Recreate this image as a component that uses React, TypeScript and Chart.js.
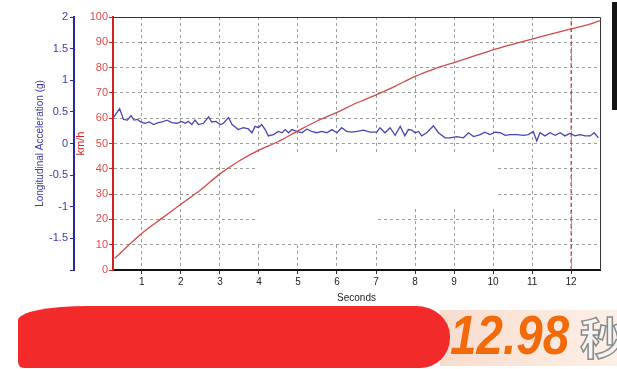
import React, { useEffect, useRef } from "react";
import { Chart, registerables } from "chart.js";

Chart.register(...registerables);

// ---- data ----
const X_MIN = 0.26;
const X_MAX = 12.74;
const X_TICKS = [1, 2, 3, 4, 5, 6, 7, 8, 9, 10, 11, 12];
const SPEED_TICKS = [0, 10, 20, 30, 40, 50, 60, 70, 80, 90, 100];
const ACCEL_TICKS = [-2, -1.5, -1, -0.5, 0, 0.5, 1, 1.5, 2];

const SPEED_T = [0.3, 1, 1.5, 2, 2.5, 3, 3.5, 4, 4.5, 5, 5.5, 6, 6.5, 7, 7.5, 8, 8.5, 9, 9.5, 10, 10.5, 11, 11.5, 12, 12.5, 12.74];
const SPEED_KMH = [4.6, 14.5, 20.3, 26, 31.6, 38, 43.2, 47.4, 50.8, 55, 59, 62.3, 66, 69.2, 72.7, 76.5, 79.5, 82, 84.5, 87, 89.2, 91.3, 93.3, 95.3, 97.3, 98.6];

const ACCEL_T = [0.27, 0.43, 0.53, 0.63, 0.72, 0.8, 0.89, 0.97, 1.08, 1.19, 1.3, 1.42, 1.52, 1.64, 1.77, 1.9, 2.02, 2.11, 2.19, 2.28, 2.36, 2.45, 2.58, 2.71, 2.79, 2.9, 3.01, 3.09, 3.22, 3.31, 3.39, 3.47, 3.6, 3.73, 3.82, 3.9, 3.99, 4.07, 4.16, 4.24, 4.37, 4.5, 4.59, 4.67, 4.76, 4.84, 4.97, 5.1, 5.23, 5.35, 5.48, 5.61, 5.74, 5.87, 6.0, 6.12, 6.25, 6.38, 6.51, 6.68, 6.85, 7.02, 7.1, 7.23, 7.36, 7.49, 7.62, 7.74, 7.83, 7.92, 8.0, 8.09, 8.17, 8.3, 8.47, 8.6, 8.77, 8.9, 9.07, 9.24, 9.37, 9.5, 9.67, 9.79, 9.92, 10.05, 10.18, 10.31, 10.44, 10.61, 10.78, 10.9, 11.03, 11.12, 11.2, 11.33, 11.46, 11.59, 11.72, 11.84, 11.97, 12.1, 12.23, 12.36, 12.49, 12.59, 12.7];
const ACCEL_G = [0.41, 0.55, 0.38, 0.37, 0.44, 0.37, 0.38, 0.34, 0.32, 0.34, 0.3, 0.33, 0.34, 0.37, 0.33, 0.32, 0.35, 0.32, 0.35, 0.3, 0.37, 0.3, 0.32, 0.42, 0.34, 0.35, 0.3, 0.32, 0.41, 0.3, 0.26, 0.22, 0.25, 0.23, 0.17, 0.27, 0.25, 0.3, 0.22, 0.12, 0.14, 0.19, 0.17, 0.22, 0.17, 0.22, 0.19, 0.17, 0.23, 0.19, 0.17, 0.19, 0.17, 0.22, 0.17, 0.25, 0.19, 0.18, 0.19, 0.21, 0.18, 0.18, 0.25, 0.17, 0.25, 0.13, 0.27, 0.12, 0.22, 0.21, 0.17, 0.19, 0.12, 0.17, 0.28, 0.17, 0.09, 0.09, 0.11, 0.09, 0.17, 0.11, 0.14, 0.18, 0.14, 0.18, 0.17, 0.13, 0.14, 0.14, 0.13, 0.14, 0.19, 0.04, 0.17, 0.12, 0.17, 0.13, 0.17, 0.12, 0.16, 0.12, 0.14, 0.12, 0.12, 0.17, 0.09];

const MARKER_T = [12, 12];
const MARKER_KMH = [0, 100];

const RESULT_TIME = "12.98";
const RESULT_UNIT = "秒";

const FONT = "'Liberation Sans', Arial, sans-serif";

const framePlugin = {
  id: "frame",
  afterDatasetsDraw(chart: any) {
    const { ctx, chartArea } = chart;
    const { left, top, right, bottom } = chartArea;
    ctx.save();
    ctx.strokeStyle = "#333";
    ctx.lineWidth = 1;
    ctx.beginPath();
    ctx.moveTo(left, Math.round(top) + 0.5);
    ctx.lineTo(Math.round(right) + 0.5, Math.round(top) + 0.5);
    ctx.lineTo(Math.round(right) + 0.5, bottom);
    ctx.stroke();
    ctx.restore();
  },
};

const zip = (xs: number[], ys: number[]) => xs.map((x, i) => ({ x, y: ys[i] })).filter((p) => p.y !== undefined);

export default function App() {
  const ref = useRef<HTMLCanvasElement | null>(null);

  useEffect(() => {
    if (!ref.current) return;
    const chart = new Chart(ref.current, {
      type: "line",
      data: {
        datasets: [
          {
            label: "Speed",
            data: zip(SPEED_T, SPEED_KMH),
            xAxisID: "x",
            yAxisID: "ySpeed",
            borderColor: "#d24a4a",
            borderWidth: 1.3,
            pointRadius: 0,
            tension: 0.3,
          },
          {
            label: "Acceleration",
            data: zip(ACCEL_T, ACCEL_G),
            xAxisID: "x",
            yAxisID: "yAcc",
            borderColor: "#4646b4",
            borderWidth: 1.3,
            pointRadius: 0,
            tension: 0,
          },
          {
            label: "Marker",
            data: zip(MARKER_T, MARKER_KMH),
            xAxisID: "x",
            yAxisID: "ySpeed",
            borderColor: "#a82228",
            borderWidth: 1,
            borderDash: [4, 3],
            pointRadius: 0,
          },
        ],
      } as any,
      options: {
        animation: false,
        responsive: false,
        maintainAspectRatio: false,
        layout: { padding: { top: 17, right: 17, left: 0, bottom: 0 } },
        plugins: { legend: { display: false }, tooltip: { enabled: false } },
        scales: {
          x: {
            type: "linear",
            min: X_MIN,
            max: X_MAX,
            afterBuildTicks: (s: any) => {
              s.ticks = X_TICKS.map((v) => ({ value: v }));
            },
            afterFit: (s: any) => {
              s.height = 35;
            },
            grid: { color: "#9c9c9c", lineWidth: 1, tickColor: "#333", tickLength: 4 },
            border: { color: "#111", width: 2, dash: [3, 3] },
            ticks: { color: "#222", font: { family: FONT, size: 10 }, padding: 2, maxRotation: 0, autoSkip: false },
            title: { display: true, text: "Seconds", color: "#222", font: { family: FONT, size: 10 }, padding: { top: 0, bottom: 1 } },
          },
          ySpeed: {
            type: "linear",
            position: "left",
            weight: 0,
            min: 0,
            max: 100,
            afterBuildTicks: (s: any) => {
              s.ticks = SPEED_TICKS.map((v) => ({ value: v }));
            },
            afterFit: (s: any) => {
              s.width = 39;
            },
            grid: { color: "#9c9c9c", lineWidth: 1, tickColor: "#d42020", tickLength: 4 },
            border: { color: "#d42020", width: 2, dash: [3, 3] },
            ticks: { color: "#e04a48", font: { family: FONT, size: 11 }, padding: 1 },
            title: { display: true, text: "km/h", color: "#d42020", font: { family: FONT, size: 11 }, padding: { top: 0, bottom: 0 } },
          },
          yAcc: {
            type: "linear",
            position: "left",
            weight: 1,
            min: -2,
            max: 2,
            afterBuildTicks: (s: any) => {
              s.ticks = ACCEL_TICKS.map((v) => ({ value: v }));
            },
            afterFit: (s: any) => {
              s.width = 74;
            },
            grid: { drawOnChartArea: false, color: "#2828a0", tickColor: "#2828a0", tickLength: 4 },
            border: { color: "#2828a0", width: 2 },
            ticks: {
              color: "#3a3ab0",
              font: { family: FONT, size: 11 },
              padding: 2,
              callback: (v: any) => (v === -2 ? "" : String(v)),
            },
            title: {
              display: true,
              text: "Longitudinal Acceleration (g)",
              color: "#3a3ab0",
              font: { family: FONT, size: 10 },
              padding: { top: 34, bottom: 0 },
            },
          },
        },
      } as any,
      plugins: [framePlugin],
    });
    return () => chart.destroy();
  }, []);

  return (
    <div style={{ position: "relative", width: 617, height: 369, overflow: "hidden", background: "#fff" }}>
      <style>{"body{margin:0}"}</style>
      <canvas ref={ref} width={617} height={305} style={{ display: "block", position: "absolute", left: 0, top: 0 }} />
      {/* white cover over part of the grid, as in the photo */}
      <div style={{ position: "absolute", left: 257, top: 152, width: 121, height: 92, background: "#fff" }} />
      <div style={{ position: "absolute", left: 377, top: 152, width: 118, height: 57, background: "#fff" }} />
      {/* dark screen edge at the right */}
      <div style={{ position: "absolute", left: 612, top: 2, width: 5, height: 108, background: "#141414" }} />
      {/* result strip */}
      <div
        style={{
          position: "absolute",
          left: 440,
          top: 310,
          width: 177,
          height: 56,
          background: "linear-gradient(to right, #f9dccd, #fdf0e8)",
        }}
      />
      <div
        style={{
          position: "absolute",
          left: 18,
          top: 306,
          width: 432,
          height: 62,
          background: "#f22a2a",
          borderRadius: "70px 34px 30px 6px / 14px 30px 30px 6px",
        }}
      />
      <div
        style={{
          position: "absolute",
          left: 450,
          top: 303,
          fontFamily: FONT,
          fontWeight: 900,
          fontStyle: "italic",
          fontSize: 56,
          color: "#f26a0a",
          transform: "scaleX(0.85)",
          transformOrigin: "left top",
          whiteSpace: "nowrap",
          lineHeight: "64px",
          textShadow: "0 0 1px #fff",
        }}
      >
        {RESULT_TIME}
      </div>
      <div
        style={{
          position: "absolute",
          left: 580,
          top: 310,
          fontFamily: "'Noto Sans CJK SC', sans-serif",
          fontWeight: 700,
          fontSize: 44,
          color: "#f4f4f4",
          WebkitTextStroke: "1.5px #8a8a8a",
          lineHeight: "52px",
          whiteSpace: "nowrap",
        }}
      >
        {RESULT_UNIT}
      </div>
    </div>
  );
}
